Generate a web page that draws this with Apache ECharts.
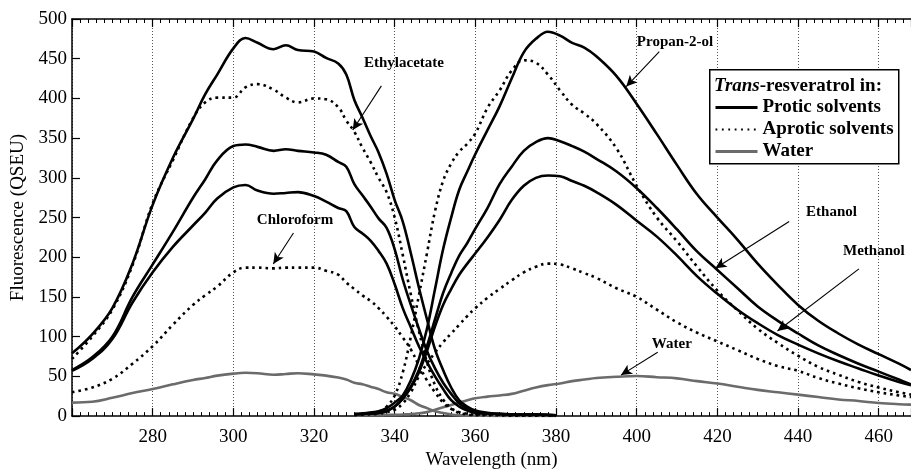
<!DOCTYPE html>
<html><head><meta charset="utf-8">
<script src="https://cdn.jsdelivr.net/npm/echarts@6/dist/echarts.min.js"></script>
<style>html,body{margin:0;padding:0;background:#fff}#c{width:911px;height:475px}</style>
</head><body><div id="c"></div>
<script>
// Excitation spectra wavelengths (nm)
const exNm = [260,265,270,275,280,285,290,293,296,300,303,306,310,313,316,320,323,326,328,330,332,334,336,338,340,342,344,346,348,350,352,354,356,358,360,365,370,375,380];
const propanolEx = [79,103,136,192,266,325,374,405,430,463,476,470,462,467,461,459,451,444,430,398,376,353,332,305,272,245,205,162,122,84,58,36,20,12,7,3,2,2,1];
const ethylacetateEx = [72,100,134,190,268,322,375,395,401,401,414,418,411,401,395,400,399,389,372,358,338,320,300,282,250,203,153,107,68,39,21,10,5,3,2,2,1,1,1];
const ethanolEx = [58,74,100,150,191,232,275,298,322,340,342,339,334,336,334,332,329,320,314,292,278,264,249,237,210,172,140,110,82,60,42,28,16,9,5,3,2,2,1];
const methanolEx = [57,72,97,143,181,213,240,256,274,288,291,284,280,281,282,277,270,262,258,238,230,221,208,192,166,136,112,88,68,50,34,20,12,7,4,3,2,2,1];
const chloroformEx = [30,36,47,66,88,115,140,152,163,181,187,187,186,187,187,187,183,178,168,160,152,145,136,125,113,99,84,64,45,30,17,9,4,2,1,1,0.5,0.5,0.5];
const waterEx = [17,18,23,29,34,40,45.5,48,51,53.5,54.5,54,52,53,54,52.5,51,48.5,46,42,40,37,34,30,28,24,20,14,10,6,4,2,1,0.5,0.5,0.3,0.3,0.3,0.3];

// Emission spectra wavelengths (nm)
const emNm = [330,333,336,338,340,342,344,346,348,350,352,354,356,358,360,363,366,369,372,375,378,381,384,387,390,395,400,405,410,415,420,425,430,435,440,445,450,455,460,465,468];
const propanolEm = [3,4,6,10,17,26,45,72,110,160,210,250,285,308,330,360,390,425,458,475,484,479,470,464,453,428,393,355,316,279,250,222,192,165,140,120,104,90,78,66,58];
const ethylacetateEm = [2,3,5,12,26,55,100,152,205,258,296,318,333,343,356,388,410,435,448,445,430,410,392,381,368,337,290,250,220,188,158,133,110,92,76,62,52,43,36,30,27];
const ethanolEm = [2,3,4,7,12,22,37,58,88,122,155,180,202,218,236,262,292,314,334,345,350,346,340,333,324,308,287,262,235,207,184,161,138,120,104,89,77,66,56,46,40];
const methanolEm = [2,3,4,6,12,22,36,55,82,113,140,160,178,192,205,225,247,272,290,300,303,302,296,290,282,266,246,226,202,176,154,134,117,102,90,79,69,60,51,43,39];
const chloroformEm = [1,2,3,5,8,16,30,50,66,80,93,104,115,126,136,149,160,171,181,188,192,191,186,180,174,161,150,134,118,105,94,83,72,63,57,48,41,35,30,26,24];
const waterEm = [0.5,1,1,1.5,1.5,2,2.5,3.5,5,8,11,14,17,20,22.5,24.5,26,28,32,36,39,41,44,46,48,49.5,50.5,49,47.5,44,41,37,33,30,27,24,21,19,16.5,15,14.5];

// Axis ticks
const xTicks = {min: 260, max: 468, interval: 20};
const yTicks = {min: 0, max: 500, interval: 50};

// Legend
const legendTitleItalic = 'Trans';
const legendTitleRest = '-resveratrol in:';
const legendNames = ['Protic solvents', 'Aprotic solvents', 'Water'];

// Annotations (data coordinates)
const annoText = ['Ethylacetate', 'Propan-2-ol', 'Chloroform', 'Ethanol', 'Methanol', 'Water'];
const annoTextAt = [[342.3,445],[409.5,471.4],[315.3,246.3],[448.3,257.4],[458.8,208],[408.7,90.7]];
const arrowFrom = [[336.7,415.8],[405.6,459],[314.9,230.6],[437.8,245],[455.1,185.4],[405.2,80.5]];
const arrowTo = [[329.6,360.2],[397.4,415],[309.9,191.6],[419.5,186.2],[434.9,107.2],[396.1,51.6]];

const FONT = '"Liberation Serif","Times New Roman",serif';
const chart = echarts.init(document.getElementById('c'), null, {renderer: 'canvas'});

function pts(xs, ys) { return xs.map((x, i) => [x, ys[i]]); }
const SOLID = {color: '#000', width: 2.6, type: 'solid'};
const DOT = {color: '#000', width: 2.6, type: [2.6, 4]};
const GRAY = {color: '#6b6b6b', width: 2.6, type: 'solid'};

function mk(name, xs, ys, ls) {
  return {
    name: name, type: 'line', data: pts(xs, ys), symbol: 'none', showSymbol: false,
    smooth: 0.4, lineStyle: ls, itemStyle: {color: ls.color},
    silent: true, animation: false, z: 3
  };
}

const series = [
  mk('Water', exNm, waterEx, GRAY),
  mk('Water', emNm, waterEm, GRAY),
  mk('Aprotic solvents', exNm, chloroformEx, DOT),
  mk('Aprotic solvents', exNm, ethylacetateEx, DOT),
  mk('Aprotic solvents', emNm, chloroformEm, DOT),
  mk('Aprotic solvents', emNm, ethylacetateEm, DOT),
  mk('Protic solvents', exNm, propanolEx, SOLID),
  mk('Protic solvents', exNm, ethanolEx, SOLID),
  mk('Protic solvents', exNm, methanolEx, SOLID),
  mk('Protic solvents', emNm, propanolEm, SOLID),
  mk('Protic solvents', emNm, ethanolEm, SOLID),
  mk('Protic solvents', emNm, methanolEm, SOLID),
  {
    name: 'annotations', type: 'line', data: [], silent: true, animation: false, z: 5,
    markLine: {
      silent: true, animation: false, symbol: ['none', 'arrow'], symbolSize: [8, 11],
      lineStyle: {color: '#000', width: 1.1, type: 'solid'}, label: {show: false},
      data: arrowFrom.map((f, i) => [{coord: f}, {coord: arrowTo[i]}])
    },
    markPoint: {
      silent: true, animation: false, symbol: 'rect', symbolSize: 1,
      itemStyle: {color: 'rgba(0,0,0,0)'},
      label: {show: true, position: 'inside', formatter: '{b}', color: '#000',
        fontFamily: FONT, fontWeight: 'bold', fontSize: 15},
      data: annoText.map((t, i) => ({name: t, coord: annoTextAt[i]}))
    }
  }
];

const axisCommon = {
  type: 'value', min: xTicks.min, max: xTicks.max, interval: xTicks.interval,
  axisLine: {show: true, onZero: false, lineStyle: {color: '#000', width: 1.5}},
  axisTick: {show: true, inside: true, length: 8, lineStyle: {color: '#000', width: 1.2}},
  minorTick: {show: true, splitNumber: 10, length: 4, lineStyle: {color: '#000', width: 1}},
};

const legendIconStyles = [
  {color: '#000', width: 3, type: 'solid'},
  {color: '#000', width: 2, type: [1.8, 4.6]},
  {color: '#6b6b6b', width: 3, type: 'solid'}
];

const option = {
  animation: false,
  backgroundColor: '#fff',
  grid: {left: 72, right: 0, top: 19, bottom: 52, containLabel: false},
  xAxis: [
    Object.assign({}, axisCommon, {
      position: 'bottom',
      name: 'Wavelength (nm)', nameLocation: 'middle', nameGap: 32,
      nameTextStyle: {fontFamily: FONT, fontSize: 19, color: '#000'},
      axisLabel: {show: true, fontFamily: FONT, fontSize: 19, color: '#000', margin: 11,
        showMinLabel: false, showMaxLabel: false},
      splitLine: {show: true, lineStyle: {color: '#555', width: 1, type: [1, 2]}}
    }),
    Object.assign({}, axisCommon, {
      position: 'top',
      axisLabel: {show: false},
      splitLine: {show: false}
    })
  ],
  yAxis: {
    type: 'value', min: yTicks.min, max: yTicks.max, interval: yTicks.interval,
    name: 'Fluorescence (QSEU)', nameLocation: 'middle', nameGap: 42,
    nameTextStyle: {fontFamily: FONT, fontSize: 19, color: '#000'},
    axisLine: {show: true, lineStyle: {color: '#000', width: 1.5}},
    axisTick: {show: true, inside: true, length: 8, lineStyle: {color: '#000', width: 1.2}},
    axisLabel: {fontFamily: FONT, fontSize: 19, color: '#000', margin: 5},
    splitLine: {show: false}
  },
  legend: {
    show: true,
    data: legendNames.map((n, i) => ({name: n, lineStyle: legendIconStyles[i]})),
    orient: 'vertical', left: 714, top: 98,
    padding: 0, itemWidth: 42, itemHeight: 14, itemGap: 3,
    itemStyle: {color: 'rgba(0,0,0,0)', borderWidth: 0, opacity: 0},
    textStyle: {fontFamily: FONT, fontSize: 19, fontWeight: 'bold', color: '#000'},
    selectedMode: false, z: 20
  },
  graphic: [
    {
      type: 'rect', left: 709, top: 69, z: 15,
      shape: {width: 189, height: 94},
      style: {fill: '#fff', stroke: '#000', lineWidth: 1.5}
    },
    {
      type: 'text', left: 714, top: 77, z: 16,
      style: {
        text: '{i|' + legendTitleItalic + '}{b|' + legendTitleRest + '}',
        rich: {
          i: {fontFamily: FONT, fontSize: 19, fontWeight: 'bold', fontStyle: 'italic', fill: '#000'},
          b: {fontFamily: FONT, fontSize: 19, fontWeight: 'bold', fill: '#000'}
        }
      }
    }
  ],
  series: series
};
chart.setOption(option);
</script>
</body></html>
